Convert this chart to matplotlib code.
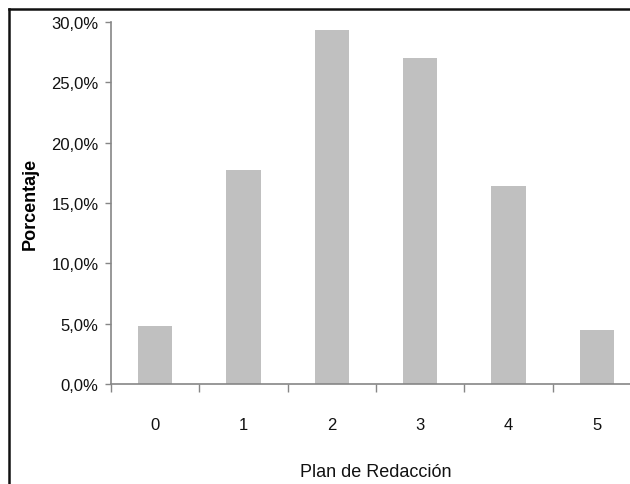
import matplotlib.pyplot as plt
from matplotlib.lines import Line2D

plt.rcParams['font.family'] = ['Liberation Sans Narrow', 'Liberation Sans', 'DejaVu Sans']

# data
categorias = ['0', '1', '2', '3', '4', '5']
porcentaje = [4.8, 17.7, 29.3, 27.0, 16.4, 4.5]
yticks = [0, 5, 10, 15, 20, 25, 30]

fig = plt.figure(figsize=(6.3, 4.85), dpi=100)
ax = fig.add_axes([111/630, 1 - 385/485, 530/630, (385 - 23)/485])

x = list(range(len(categorias)))
ax.bar(x, porcentaje, width=0.39, color='#c0c0c0', zorder=2)

ax.set_xlim(-0.5, 5.5)
ax.set_ylim(0, 30)
ax.set_yticks(yticks)
ax.set_yticklabels([('%.1f%%' % v).replace('.', ',') for v in yticks])

# category labels in the middle, ticks between categories
ax.set_xticks([i - 0.5 for i in range(len(categorias) + 1)])
ax.set_xticklabels([])
ax.set_xticks(x, minor=True)
ax.set_xticklabels(categorias, minor=True)
ax.tick_params(axis='x', which='minor', length=0, pad=24)
ax.tick_params(axis='x', which='major', length=6, width=1, color='#868686', direction='out')
ax.tick_params(axis='y', length=4, width=1, color='#868686', direction='out', pad=5)
ax.tick_params(which='both', labelsize=12, labelcolor='#111111')

for s in ['top', 'right']:
    ax.spines[s].set_visible(False)
for s in ['left', 'bottom']:
    ax.spines[s].set_color('#868686')
    ax.spines[s].set_linewidth(1.2)

ax.set_xlabel('Plan de Redacción', fontsize=13, labelpad=22, color='#111111')
ax.set_ylabel('Porcentaje', fontsize=13, fontweight='bold', labelpad=9)

# outer frame (cut off at right and bottom)
fig.add_artist(Line2D([9/630, 1.0], [1 - 10/485, 1 - 10/485], color='#111111', lw=1.8))
fig.add_artist(Line2D([9/630, 9/630], [0, 1 - 10/485], color='#111111', lw=1.8))

fig.savefig('out.png', dpi=100)
